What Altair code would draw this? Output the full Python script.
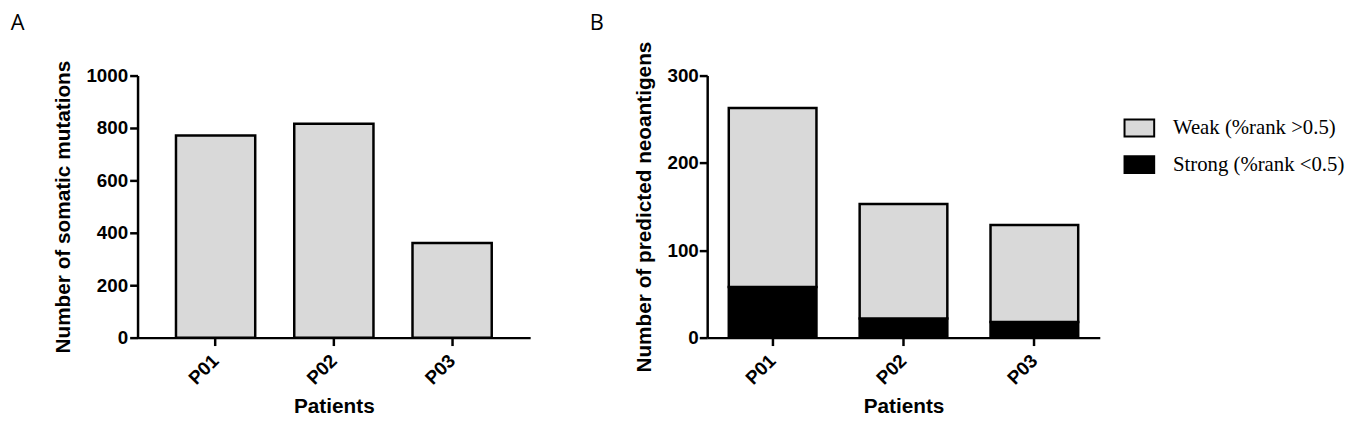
import altair as alt
import pandas as pd

patients = ["P01", "P02", "P03"]
mutations = [771, 816, 361]
strong = [58, 22, 18]
weak = [205, 131, 111]
weak_label = "Weak (%rank >0.5)"
strong_label = "Strong (%rank <0.5)"

dfA = pd.DataFrame({"patient": patients, "mutations": mutations})
rows = []
for p, s, w in zip(patients, strong, weak):
    rows.append({"patient": p, "type": strong_label, "n": s, "rank": 0})
    rows.append({"patient": p, "type": weak_label, "n": w, "rank": 1})
dfB = pd.DataFrame(rows)

xaxis = alt.Axis(labelAngle=-45, labelBaseline="middle", labelAlign="right",
                 labelPadding=12, titlePadding=8)

left = alt.Chart(dfA).mark_bar(color="#d9d9d9", stroke="black", strokeWidth=2.5).encode(
    x=alt.X("patient:N", title="Patients", sort=patients,
            scale=alt.Scale(paddingInner=0.33, paddingOuter=0.325), axis=xaxis),
    y=alt.Y("mutations:Q", title="Number of somatic mutations",
            scale=alt.Scale(domain=[0, 1000]),
            axis=alt.Axis(values=[0, 200, 400, 600, 800, 1000], format="d",
                          labelPadding=2, titlePadding=13)),
).properties(
    width=397, height=265,
    title=alt.TitleParams("A", anchor="start", frame="bounds", fontSize=22,
                          fontWeight="normal", font="Open Sans", offset=25, dx=-42),
)

right = alt.Chart(dfB).mark_bar(stroke="black", strokeWidth=2.5).encode(
    x=alt.X("patient:N", title="Patients", sort=patients,
            scale=alt.Scale(paddingInner=0.33, paddingOuter=0.165), axis=xaxis),
    y=alt.Y("n:Q", title="Number of predicted neoantigens", stack="zero",
            scale=alt.Scale(domain=[0, 300]),
            axis=alt.Axis(values=[0, 100, 200, 300], format="d",
                          labelPadding=1, titlePadding=13)),
    color=alt.Color("type:N",
                    scale=alt.Scale(domain=[weak_label, strong_label], range=["#d9d9d9", "black"]),
                    legend=alt.Legend(title=None, orient="none", legendX=997, legendY=37,
                                      symbolType="M-1,-0.57H1V0.57H-1Z", symbolSize=900,
                                      symbolStrokeColor="black", symbolStrokeWidth=2,
                                      labelFont="Liberation Serif", labelFontSize=21,
                                      labelFontWeight="normal", labelColor="black",
                                      labelLimit=400, labelOffset=18, rowPadding=8)),
    order=alt.Order("rank:Q"),
).properties(
    width=397, height=265,
    title=alt.TitleParams("B", anchor="start", frame="bounds", fontSize=22,
                          fontWeight="normal", font="Open Sans", offset=6, dx=-44),
)

chart = alt.hconcat(left, right, spacing=60).properties(
    padding={"left": 2, "top": 2, "right": 5, "bottom": 5}
).configure_view(stroke=None).configure_axis(
    grid=False, domainColor="black", domainWidth=2.5, tickColor="black",
    tickWidth=2.5, tickSize=8, labelFont="Liberation Sans", labelFontWeight="bold",
    labelFontSize=19, labelColor="black", titleFont="Liberation Sans",
    titleFontWeight="bold", titleFontSize=21, titleColor="black",
)

chart.save("out.html", embed_options={"renderer": "svg", "actions": False})
